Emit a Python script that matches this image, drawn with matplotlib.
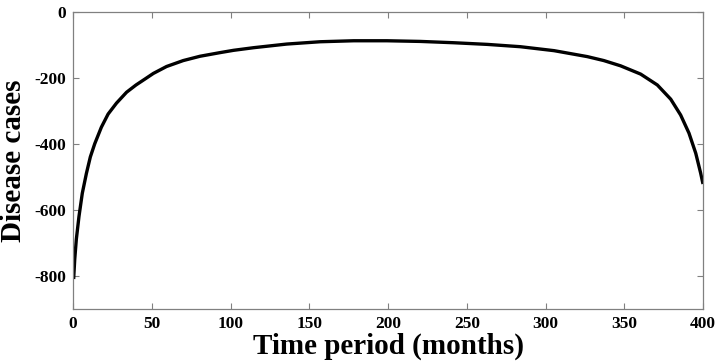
import matplotlib
matplotlib.use("Agg")
import matplotlib.pyplot as plt

months = [0.4, 1.1, 2.1, 3.8, 5.9, 8.5, 11, 13.8, 18, 22.3, 27.6, 34, 40, 46, 51, 59.4, 70, 80.6,
          93.3, 101.9, 114.7, 135.7, 156.9, 178.2, 199.3, 220.5, 241.8, 263, 284, 305.4, 326.5,
          337, 347.7, 360.4, 371, 379.5, 385.8, 391.1, 395.4, 398.5, 400]
cases = [-808, -748, -688, -618, -548, -488, -438, -398, -348, -308, -275, -242, -220, -201, -185, -164, -146, -133,
         -122, -115, -107, -96, -89, -86, -86, -88, -92, -97, -104, -116, -134,
         -146, -162, -187, -220, -263, -311, -366, -427, -487, -520]

xticks = [0, 50, 100, 150, 200, 250, 300, 350, 400]
yticks = [0, -200, -400, -600, -800]

plt.rcParams['font.family'] = ['Liberation Serif', 'DejaVu Serif']
plt.rcParams['font.weight'] = 'bold'

fig = plt.figure(figsize=(7.2, 3.64), dpi=100)
ax = fig.add_axes([0.1014, 0.150, 0.8750, 0.816])

ax.plot(months, cases, color='black', linewidth=2.4, solid_joinstyle='round', solid_capstyle='butt')
ax.set_xlim(0, 400)
ax.set_ylim(-900, 0)
ax.set_xticks(xticks)
ax.set_yticks(yticks)
ax.set_xticklabels([str(t) for t in xticks], fontsize=12.5, fontweight='bold')
ax.set_yticklabels([str(t) for t in yticks], fontsize=12.5, fontweight='bold')
ax.tick_params(direction='in', top=True, right=True, length=4, width=0.8, color='#808080', pad=5)
for s in ax.spines.values():
    s.set_color('#808080')
    s.set_linewidth(0.9)

ax.set_xlabel('Time period (months)', fontsize=21, fontweight='bold', labelpad=0)
ax.set_ylabel('Disease cases', fontsize=21, fontweight='bold', labelpad=5)

fig.savefig('out.png', dpi=100)
